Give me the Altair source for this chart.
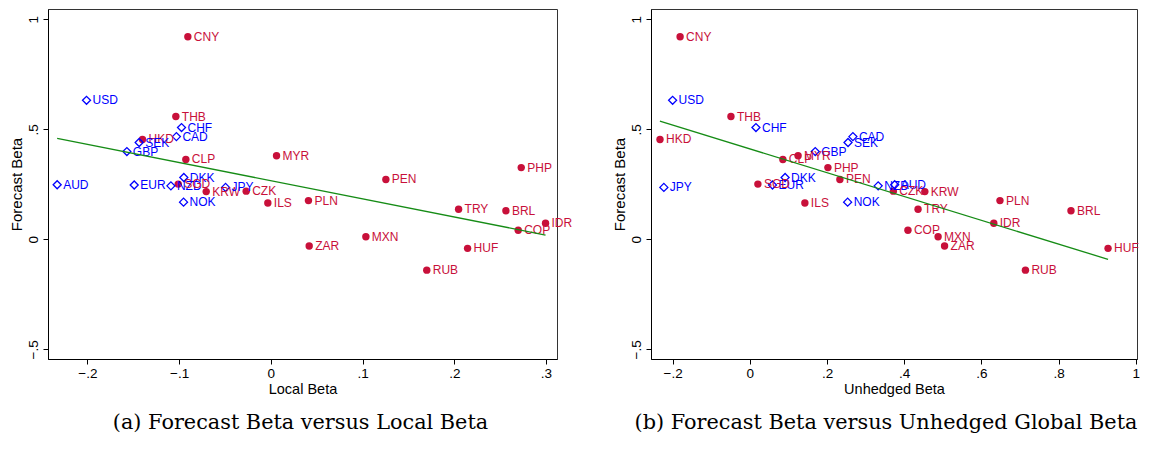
import altair as alt
import pandas as pd

currencies = ["CNY", "USD", "THB", "CHF", "CAD", "HKD", "SEK", "GBP", "CLP", "MYR",
              "AUD", "EUR", "DKK", "NZD", "SGD", "KRW", "JPY", "CZK", "NOK", "ILS",
              "PLN", "PEN", "PHP", "TRY", "BRL", "IDR", "COP", "ZAR", "MXN", "HUF", "RUB"]
developed = ["USD", "CHF", "CAD", "SEK", "GBP", "AUD", "EUR", "DKK", "NZD", "JPY", "NOK"]
forecast_beta = [0.921, 0.632, 0.558, 0.508, 0.467, 0.454, 0.440, 0.399, 0.363, 0.380,
                 0.248, 0.247, 0.281, 0.243, 0.251, 0.217, 0.236, 0.219, 0.169, 0.165,
                 0.176, 0.272, 0.326, 0.137, 0.130, 0.073, 0.041, -0.030, 0.012, -0.041, -0.140]
local_beta = [-0.0905, -0.201, -0.1036, -0.0974, -0.103, -0.140, -0.1436, -0.157, -0.0927, 0.0062,
              -0.233, -0.149, -0.0949, -0.109, -0.101, -0.0705, -0.0494, -0.0269, -0.0952, -0.0033,
              0.041, 0.1254, 0.273, 0.2047, 0.2563, 0.2995, 0.2697, 0.0418, 0.1036, 0.2145, 0.170]
unhedged_beta = [-0.1806, -0.200, -0.0489, 0.0159, 0.267, -0.2327, 0.2544, 0.1695, 0.0856, 0.125,
                 0.3753, 0.0587, 0.0914, 0.3325, 0.0209, 0.4534, -0.2227, 0.3718, 0.2534, 0.1426,
                 0.648, 0.2333, 0.2023, 0.4358, 0.832, 0.632, 0.4096, 0.5045, 0.4877, 0.928, 0.714]

fit_local_x = [-0.233, 0.2995]
fit_local_y = [0.459, 0.0195]
fit_unhedged_x = [-0.233, 0.928]
fit_unhedged_y = [0.537, -0.091]

x_ticks_local = [-0.2, -0.1, 0, 0.1, 0.2, 0.3]
x_ticks_unhedged = [-0.2, 0, 0.2, 0.4, 0.6, 0.8, 1.0]
y_ticks = [-0.5, 0, 0.5, 1]

captions = ["(a)  Forecast Beta versus Local Beta",
            "(b)  Forecast Beta versus Unhedged Global Beta"]

df = pd.DataFrame({
    "currency": currencies,
    "group": ["developed" if c in developed else "emerging" for c in currencies],
    "forecast": forecast_beta,
    "local": local_beta,
    "unhedged": unhedged_beta,
})

RED = "#c8103a"
BLUE = "#0000ff"
GREEN = "#168c16"
color_scale = alt.Scale(domain=["emerging", "developed"], range=[RED, BLUE])

label_expr = ("datum.value == 0 ? '0' : datum.value == 1 ? '1' : "
              "(datum.value < 0 ? '\u2212' : '') + '.' + format(round(abs(datum.value) * 10), 'd')")

Y_DOMAIN = [-0.544, 1.047]


def panel(xcol, xtitle, xdomain, xticks, fitx, fity, width, caption, cap_dx):
    x = alt.X(f"{xcol}:Q",
              scale=alt.Scale(domain=xdomain, nice=False, zero=False),
              axis=alt.Axis(values=xticks, title=xtitle, labelExpr=label_expr,
                            labelFlush=False, labelPadding=2, titlePadding=3))
    y = alt.Y("forecast:Q",
              scale=alt.Scale(domain=Y_DOMAIN, nice=False, zero=False),
              axis=alt.Axis(values=y_ticks, title="Forecast Beta", labelExpr=label_expr,
                            labelAngle=270, labelAlign="center", labelBaseline="bottom",
                            labelPadding=3, titlePadding=2, titleFontSize=15))
    base = alt.Chart(df)
    red = base.transform_filter("datum.group == 'emerging'").mark_circle(
        size=55, opacity=1, color=RED).encode(x=x, y=y)
    blue = base.transform_filter("datum.group == 'developed'").mark_point(
        shape="diamond", filled=False, size=64, strokeWidth=1.3, color=BLUE, opacity=1
    ).encode(x=x, y=y)
    txt = base.mark_text(align="left", baseline="middle", dx=6, fontSize=12,
                         font="Liberation Sans").encode(
        x=x, y=y, text="currency:N",
        color=alt.Color("group:N", scale=color_scale, legend=None))
    fit_df = pd.DataFrame({xcol: fitx, "forecast": fity})
    fit = alt.Chart(fit_df).mark_line(color=GREEN, strokeWidth=1.3).encode(x=x, y=y)
    return alt.layer(red, blue, txt, fit).properties(
        width=width, height=350,
        title=alt.TitleParams(caption, orient="bottom", font="DejaVu Serif", fontSize=20.8,
                              fontWeight="normal", color="black", anchor="middle",
                              offset=17, dx=cap_dx))


left = panel("local", "Local Beta", [-0.243, 0.312], x_ticks_local,
             fit_local_x, fit_local_y, 509, captions[0], -2)
right = panel("unhedged", "Unhedged Beta", [-0.256, 1.003], x_ticks_unhedged,
              fit_unhedged_x, fit_unhedged_y, 486, captions[1], -8)

chart = alt.hconcat(left, right, spacing=94, bounds="flush").properties(
    padding={"left": 0, "top": 0, "right": 0, "bottom": 0}
).configure_view(
    stroke="#333333", strokeWidth=1
).configure_axis(
    grid=False, domainColor="black", tickColor="black", tickSize=5,
    labelFont="Liberation Sans", labelFontSize=13.5, labelColor="black",
    titleFont="Liberation Sans", titleFontSize=14.5, titleFontWeight="normal",
    titleColor="black"
)

chart.save("out.html", embed_options={"renderer": "svg", "actions": False})
